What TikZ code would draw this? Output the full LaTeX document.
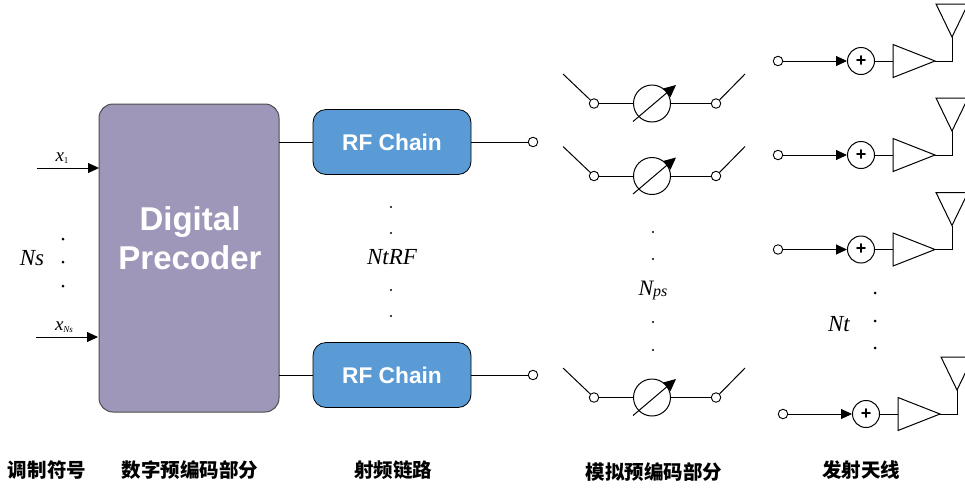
\documentclass[tikz,border=0pt]{standalone}
\usepackage{fontspec}
\setmainfont{Liberation Serif}
\setsansfont{Liberation Sans}
\newfontfamily\cjk{Noto Sans CJK SC}
\usetikzlibrary{arrows.meta,calc,shapes.geometric}
\definecolor{dpc}{HTML}{9F97B9}
\definecolor{rfc}{HTML}{5B9BD5}
\tikzset{
  wire/.style={draw=black,line width=1pt},
  arr/.style={wire,-{Triangle[length=11pt,width=10pt]}},
  term/.style={circle,draw=black,fill=white,line width=0.9pt,minimum size=9.5pt,inner sep=0pt},
  ps/.style={circle,draw=black,fill=white,line width=1pt,minimum size=37pt,inner sep=0pt},
  adder/.style={circle,draw=black,fill=white,line width=1pt,minimum size=27pt,inner sep=0pt,font=\sffamily\bfseries\fontsize{18}{18}\selectfont},
  rfbox/.style={draw=black,fill=rfc,rounded corners=13pt,line width=0.8pt,minimum width=158pt,minimum height=65pt,inner sep=0pt,text=white,font=\sffamily\bfseries\fontsize{22.7}{24}\selectfont},
  dpbox/.style={draw=black!70,fill=dpc,rounded corners=14pt,line width=1pt,minimum width=180pt,minimum height=308pt,inner sep=0pt},
  dptext/.style={inner sep=0pt,text=white,align=center,font=\sffamily\bfseries\fontsize{33}{39}\selectfont},
  lab/.style={inner sep=0pt,font=\itshape\fontsize{23}{23}\selectfont},
  captext/.style={inner sep=0pt,font=\cjk\bfseries\fontsize{19.5}{19.5}\selectfont},
  dotm/.style={circle,fill=black,minimum size=3pt,inner sep=0pt},
  dots/.style={circle,fill=black,minimum size=2.3pt,inner sep=0pt},
  glyph/.style={draw=black,line width=1pt,fill=white,line join=miter}
}
% #1 row name, #2 y
\newcommand{\shifter}[2]{
  \node[term] (pl#1) at (594,#2) {};
  \node[term] (pr#1) at (716,#2) {};
  \node[ps] (pc#1) at (652,#2) {};
  \coordinate (sl#1) at (563,#2-29.5);
  \coordinate (sr#1) at (745,#2-29.5);
  \coordinate (as#1) at (633,#2+18);
  \coordinate (ae#1) at (676,#2-18.5);
  \draw[wire] (sl#1) -- (pl#1);
  \draw[wire] (sr#1) -- (pr#1);
  \draw[wire] (pl#1) -- (pc#1);
  \draw[wire] (pc#1) -- (pr#1);
  \draw[wire,-{Triangle[length=12pt,width=11pt]}] (as#1) -- (ae#1);
}
% #1 row name, #2 x offset, #3 y
\newcommand{\txchain}[3]{
  \node[term] (tt#1) at (778+#2,#3) {};
  \node[adder] (ta#1) at (861+#2,#3) {+};
  \coordinate (al#1) at (893+#2,#3-16.5);
  \coordinate (ab#1) at (893+#2,#3+16.5);
  \coordinate (at#1) at (935+#2,#3);
  \coordinate (an#1) at (952+#2,#3-24);
  \coordinate (nl#1) at (936+#2,#3-57);
  \coordinate (nr#1) at (968+#2,#3-57);
  \coordinate (ai#1) at (893+#2,#3);
  \coordinate (sc#1) at (952+#2,#3);
  \draw[arr] (tt#1) -- (ta#1);
  \draw[wire] (ta#1) -- (ai#1);
  \draw[glyph] (al#1) -- (at#1) -- (ab#1) -- cycle;
  \draw[wire] (at#1) -- (sc#1) -- (an#1);
  \draw[glyph] (nl#1) -- (an#1) -- (nr#1) -- cycle;
}
\begin{document}
\begin{tikzpicture}[x=1pt,y=-1pt]
\useasboundingbox (0,0) rectangle (965,488);
\clip (0,0) rectangle (965,488);

\node[dpbox] (dp) at (189,258) {};
\node[dptext] (dpt) at (190,238) {Digital\\Precoder};
\node[rfbox] (rf1) at (392,142) {RF Chain};
\node[rfbox] (rf2) at (392,375) {RF Chain};

% inputs
\coordinate (i1) at (37,168);
\coordinate (i2) at (36,337);
\coordinate (d1) at (99,168);
\coordinate (d2) at (98,337);
\draw[arr] (i1) -- (d1);
\draw[arr] (i2) -- (d2);
\node[inner sep=0pt] (x1) at (62,158) {\fontsize{19}{19}\selectfont\itshape x\raisebox{-1.5pt}{\upshape\fontsize{9}{9}\selectfont 1}};
\node[inner sep=0pt] (x2) at (64,327) {\fontsize{19}{19}\selectfont\itshape x\raisebox{-1.5pt}{\fontsize{9}{9}\selectfont Ns}};
\node[lab] (ns) at (32,258) {Ns};
\node[dotm] (a1) at (63,239) {};
\node[dotm] (a2) at (63,262) {};
\node[dotm] (a3) at (63,286) {};

% RF connections
\coordinate (o1) at (279,142);
\coordinate (o2) at (279,375);
\draw[wire] (o1) -- (rf1.west);
\draw[wire] (o2) -- (rf2.west);
\node[term] (c1) at (533,142) {};
\node[term] (c2) at (533,375) {};
\draw[wire] (rf1) -- (c1);
\draw[wire] (rf2) -- (c2);
\node[dots] (b1) at (391,207) {};
\node[dots] (b2) at (391,233) {};
\node[lab] (ntrf) at (392,257) {NtRF};
\node[dots] (b3) at (391,290) {};
\node[dots] (b4) at (391,316) {};

% phase shifters
\shifter{a}{103.5}
\shifter{b}{176}
\shifter{c}{397.5}
\node[dots] (e1) at (653,232) {};
\node[dots] (e2) at (653,259) {};
\node[inner sep=0pt] (nps) at (653,290) {\fontsize{22}{22}\selectfont\itshape N\raisebox{-1pt}{\fontsize{16}{16}\selectfont ps}};
\node[dots] (e3) at (653,322) {};
\node[dots] (e4) at (653,350) {};

% transmit chains
\txchain{a}{0}{61}
\txchain{b}{0}{155}
\txchain{c}{0}{249.5}
\txchain{d}{5}{414}
\node[dotm] (f1) at (875,293) {};
\node[dotm] (f2) at (875,321) {};
\node[dotm] (f3) at (875,348) {};
\node[lab] (nt) at (839,324) {Nt};

% captions
\node[captext] (k1) at (47,470) {调制符号};
\node[captext] (k2) at (190,470) {数字预编码部分};
\node[captext] (k3) at (393,470) {射频链路};
\node[captext] (k4) at (654,472) {模拟预编码部分};
\node[captext] (k5) at (861,470) {发射天线};
\end{tikzpicture}
\end{document}
